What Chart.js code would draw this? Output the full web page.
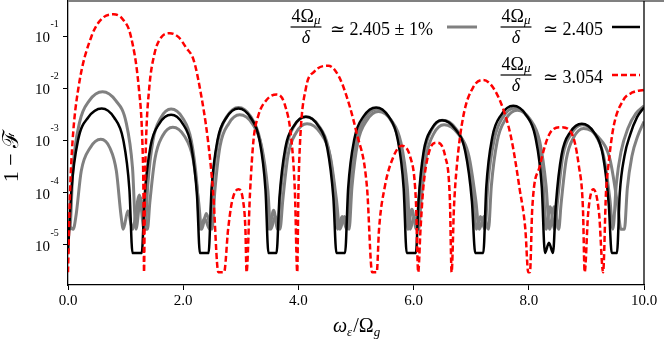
<!DOCTYPE html>
<html>
<head>
<meta charset="utf-8">
<script src="https://cdn.jsdelivr.net/npm/chart.js@4.4.1/dist/chart.umd.min.js"></script>
<style>
  body { margin: 0; background: #fff; }
  #wrap { width: 664px; height: 342px; }
</style>
</head>
<body>
<div id="wrap"><canvas id="chartCanvas" width="664" height="342"></canvas></div>
<script>
// points: [omega_eps / Omega_g, 1 - F]
let redCurve = [
  [0, 3e-6], [0.035, 1e-4], [0.08, 1e-3], [0.18, 1e-2], [0.41, 0.1], [0.6, 0.22], [0.79, 0.26], [0.95, 0.21], [1.09, 0.1], [1.23, 1e-2], [1.29, 1e-3], [1.31, 1e-4], [1.32, 3e-6],
  [1.335, 1e-4], [1.355, 1e-3], [1.41, 1e-2], [1.5, 0.045], [1.62, 0.095], [1.77, 0.113], [1.92, 0.095], [2.05, 0.06], [2.18, 0.035], [2.29, 1e-2], [2.43, 1e-3], [2.52, 1e-4], [2.61, 3e-6], [2.71, 3e-6],
  [2.78, 2e-5], [2.85, 7e-5], [2.96, 1.17e-4], [3.04, 7e-5], [3.08, 2e-5], [3.1, 3e-6],
  [3.16, 1e-4], [3.22, 1e-3], [3.3, 2.9e-3], [3.45, 6.0e-3], [3.62, 7.6e-3], [3.76, 5.0e-3], [3.88, 1e-3], [3.94, 1e-4], [3.98, 3e-6],
  [4.0, 1e-4], [4.03, 1e-3], [4.13, 1e-2], [4.28, 0.021], [4.52, 0.027], [4.65, 0.021], [4.78, 1.07e-2], [5.01, 1.4e-3], [5.19, 1.3e-4], [5.28, 3e-6], [5.36, 3e-6],
  [5.4, 2e-5], [5.5, 1.3e-4], [5.65, 4.9e-4], [5.79, 7.9e-4], [5.94, 4.9e-4], [6.04, 7e-5], [6.08, 3e-6],
  [6.12, 2e-5], [6.17, 1.3e-4], [6.28, 6.6e-4], [6.4, 9.1e-4], [6.55, 4.9e-4], [6.63, 7.2e-5], [6.66, 3e-6],
  [6.7, 5e-5], [6.75, 3.2e-4], [6.86, 2.8e-3], [7.04, 1.07e-2], [7.21, 0.0144], [7.44, 8e-3], [7.64, 2e-3], [7.72, 8e-4], [7.84, 1.2e-4], [7.94, 2e-5], [7.99, 3e-6], [8.02, 3e-6],
  [8.06, 5e-5], [8.19, 3.2e-4], [8.37, 1.4e-3], [8.56, 1.8e-3], [8.74, 1.4e-3], [8.87, 3.2e-4], [8.94, 5e-5], [8.97, 3e-6],
  [9.03, 4e-5], [9.12, 1.17e-4], [9.22, 4e-5], [9.29, 3e-6],
  [9.34, 1e-4], [9.38, 3.2e-4], [9.47, 1.8e-3], [9.64, 5.9e-3], [9.8, 8.3e-3], [10, 9.3e-3]
];

let blackCurve = [
  [0, 7e-6], [0.06, 1.15e-4], [0.175, 1.02e-3], [0.35, 2.75e-3], [0.585, 4.1e-3], [0.8, 2.75e-3], [0.96, 1.02e-3], [1.066, 1.15e-4], [1.12, 7e-6], [1.28, 7e-6],
  [1.331, 8.7e-5], [1.433, 7.8e-4], [1.586, 2.1e-3], [1.79, 3.1e-3], [1.99, 2.1e-3], [2.14, 7.8e-4], [2.24, 8.7e-5], [2.29, 7e-6], [2.44, 7e-6],
  [2.492, 1.15e-4], [2.596, 1.02e-3], [2.752, 2.75e-3], [2.96, 4.1e-3], [3.168, 2.75e-3], [3.324, 1.02e-3], [3.428, 1.15e-4], [3.48, 7e-6], [3.62, 7e-6],
  [3.671, 8.0e-5], [3.773, 7.2e-4], [3.926, 1.93e-3], [4.13, 2.85e-3], [4.342, 1.93e-3], [4.501, 7.2e-4], [4.607, 8.0e-5], [4.66, 7e-6], [4.81, 7e-6],
  [4.864, 1.22e-4], [4.972, 1.08e-3], [5.134, 2.92e-3], [5.35, 4.3e-3], [5.562, 2.92e-3], [5.721, 1.08e-3], [5.827, 1.22e-4], [5.88, 7e-6], [6.04, 7e-6],
  [6.085, 6.9e-5], [6.175, 6.2e-4], [6.31, 1.66e-3], [6.49, 2.45e-3], [6.722, 1.66e-3], [6.896, 6.2e-4], [7.012, 6.9e-5], [7.07, 7e-6], [7.21, 7e-6],
  [7.262, 1.29e-4], [7.366, 1.15e-3], [7.522, 3.1e-3], [7.73, 4.6e-3], [7.95, 3.1e-3], [8.115, 1.15e-3], [8.225, 1.29e-4], [8.28, 7e-6], [8.35, 1.1e-5], [8.42, 7e-6],
  [8.47, 6.0e-5], [8.57, 5.4e-4], [8.72, 1.45e-3], [8.92, 2.1e-3], [9.128, 1.45e-3], [9.284, 5.4e-4], [9.388, 6.0e-5], [9.44, 7e-6], [9.53, 7e-6],
  [9.58, 1.0e-4], [9.66, 5e-4], [9.76, 1.3e-3], [9.88, 2.8e-3], [10, 4.3e-3]
];

// the +1% / -1% pair, both drawn grey
let grayHigh = [
  [0, 2.5e-5], [0.03, 2e-5], [0.087, 3.0e-4], [0.2, 2.2e-3], [0.37, 5.8e-3], [0.6, 8.6e-3], [0.83, 5.8e-3], [1.01, 2.2e-3], [1.12, 3.0e-4], [1.18, 2e-5], [1.26, 8e-5], [1.34, 2e-5],
  [1.385, 1.4e-4], [1.475, 1.0e-3], [1.61, 2.7e-3], [1.79, 4.0e-3], [1.99, 2.7e-3], [2.14, 1.0e-3], [2.24, 1.4e-4], [2.29, 2e-5], [2.37, 3.2e-5], [2.46, 2e-5],
  [2.51, 1.5e-4], [2.61, 1.07e-3], [2.76, 2.9e-3], [2.96, 4.3e-3], [3.17, 2.9e-3], [3.33, 1.07e-3], [3.44, 1.5e-4], [3.49, 2e-5], [3.57, 4.6e-5], [3.64, 2e-5],
  [3.69, 1.0e-4], [3.79, 7.2e-4], [3.93, 1.93e-3], [4.13, 2.85e-3], [4.35, 1.93e-3], [4.52, 7.2e-4], [4.63, 1.0e-4], [4.68, 2e-5], [4.76, 3.5e-5], [4.84, 2e-5],
  [4.89, 1.4e-4], [5.0, 1.0e-3], [5.16, 2.7e-3], [5.37, 4.0e-3], [5.58, 2.7e-3], [5.74, 1.0e-3], [5.85, 1.4e-4], [5.9, 2e-5], [5.97, 4.8e-5], [6.05, 2e-5],
  [6.1, 8.7e-5], [6.19, 6.2e-4], [6.32, 1.66e-3], [6.5, 2.45e-3], [6.74, 1.66e-3], [6.91, 6.2e-4], [7.03, 8.7e-5], [7.09, 2e-5], [7.16, 3.5e-5], [7.24, 2e-5],
  [7.29, 1.5e-4], [7.4, 1.05e-3], [7.55, 2.8e-3], [7.76, 4.2e-3], [7.98, 2.8e-3], [8.14, 1.05e-3], [8.25, 1.5e-4], [8.3, 2e-5], [8.37, 5.4e-5], [8.45, 2e-5],
  [8.5, 7.1e-5], [8.59, 5.0e-4], [8.74, 1.35e-3], [8.93, 2.0e-3], [9.14, 1.35e-3], [9.3, 5.0e-4], [9.41, 7.1e-5], [9.46, 2e-5],
  [9.52, 1.5e-4], [9.6, 6e-4], [9.72, 1.7e-3], [9.86, 3.3e-3], [10, 4.6e-3]
];

let grayLow = [
  [0, 2.5e-5], [0.09, 2e-5], [0.14, 3.7e-5], [0.23, 2.6e-4], [0.38, 7.1e-4], [0.57, 1.05e-3], [0.73, 7.1e-4], [0.84, 2.6e-4], [0.92, 3.7e-5], [0.96, 2e-5], [1.04, 4.5e-5], [1.12, 2e-5], [1.24, 9e-5], [1.32, 2e-5], [1.38, 2e-5],
  [1.42, 6.4e-5], [1.51, 4.5e-4], [1.64, 1.22e-3], [1.82, 1.8e-3], [2.02, 1.22e-3], [2.17, 4.5e-4], [2.27, 6.4e-5], [2.32, 2e-5], [2.4, 4e-5], [2.5, 2e-5],
  [2.55, 1.1e-4], [2.64, 7.8e-4], [2.79, 2.1e-3], [2.98, 3.1e-3], [3.2, 2.1e-3], [3.36, 7.8e-4], [3.47, 1.1e-4], [3.52, 2e-5], [3.6, 3.5e-5], [3.68, 2e-5],
  [3.73, 7.4e-5], [3.82, 5.2e-4], [3.96, 1.41e-3], [4.15, 2.1e-3], [4.38, 1.41e-3], [4.55, 5.2e-4], [4.66, 7.4e-5], [4.72, 2e-5], [4.8, 3.5e-5], [4.88, 2e-5],
  [4.93, 1.3e-4], [5.03, 9.1e-4], [5.19, 2.45e-3], [5.39, 3.6e-3], [5.61, 2.45e-3], [5.78, 9.1e-4], [5.89, 1.3e-4], [5.94, 2e-5], [6.01, 3.5e-5], [6.09, 2e-5],
  [6.13, 7.1e-5], [6.22, 5.0e-4], [6.35, 1.35e-3], [6.53, 2.0e-3], [6.77, 1.35e-3], [6.96, 5.0e-4], [7.08, 7.1e-5], [7.14, 2e-5], [7.22, 3.5e-5], [7.3, 2e-5],
  [7.35, 1.35e-4], [7.45, 9.5e-4], [7.6, 2.57e-3], [7.8, 3.8e-3], [8.02, 2.57e-3], [8.19, 9.5e-4], [8.3, 1.35e-4], [8.36, 2e-5], [8.44, 5.4e-5], [8.52, 2e-5],
  [8.56, 6.0e-5], [8.65, 4.3e-4], [8.78, 1.15e-3], [8.95, 1.7e-3], [9.21, 1.15e-3], [9.41, 4.3e-4], [9.54, 6.0e-5], [9.6, 2e-5], [9.66, 2e-5],
  [9.71, 1.2e-4], [9.79, 5e-4], [9.89, 1.2e-3], [10, 2.3e-3]
];

let xTicks = [0, 2, 4, 6, 8, 10];
let yTicks = [1e-5, 1e-4, 1e-3, 1e-2, 1e-1];
let legendValues = ['\u2243 2.405 \u00b1 1%', '\u2243 2.405', '\u2243 3.054'];

const serif = '"Liberation Serif", "DejaVu Serif", serif';

function toPoints(arr) {
  return arr.map(p => ({ x: p[0], y: p[1] }));
}

// fraction 4Ω_μ / δ centred on cx, bar at y
function drawFraction(ctx, cx, y) {
  ctx.font = '18px ' + serif;
  let w1 = ctx.measureText('4\u03a9').width;
  ctx.font = 'italic 13px ' + serif;
  let w2 = ctx.measureText('\u03bc').width;
  let w = w1 + w2;
  let x0 = cx - w / 2;
  ctx.textAlign = 'left';
  ctx.font = '18px ' + serif;
  ctx.fillText('4\u03a9', x0, y - 5);
  ctx.font = 'italic 13px ' + serif;
  ctx.fillText('\u03bc', x0 + w1, y - 3);
  ctx.fillRect(x0 - 1, y - 0.6, w + 2, 1.2);
  ctx.textAlign = 'center';
  ctx.font = 'italic 18px ' + serif;
  ctx.fillText('\u03b4', cx, y + 16);
  ctx.textAlign = 'left';
}

function sampleLine(ctx, x1, x2, y, color, width, dash) {
  ctx.save();
  ctx.strokeStyle = color;
  ctx.lineWidth = width;
  ctx.setLineDash(dash);
  ctx.beginPath();
  ctx.moveTo(x1, y);
  ctx.lineTo(x2, y);
  ctx.stroke();
  ctx.restore();
}

const extras = {
  id: 'extras',
  afterDraw(chart) {
    let ctx = chart.ctx;
    let area = chart.chartArea;
    let yScale = chart.scales.y;
    ctx.save();

    // frame: grey top edge, black right edge
    ctx.strokeStyle = '#808080';
    ctx.lineWidth = 2;
    ctx.beginPath();
    ctx.moveTo(area.left, area.top);
    ctx.lineTo(664, area.top);
    ctx.stroke();
    ctx.strokeStyle = '#000';
    ctx.lineWidth = 1.3;
    ctx.beginPath();
    ctx.moveTo(area.right, area.top);
    ctx.lineTo(area.right, area.bottom);
    ctx.stroke();

    // y tick labels 10^n
    ctx.fillStyle = '#000';
    yTicks.forEach(v => {
      let py = yScale.getPixelForValue(v);
      let exp = Math.round(Math.log10(v));
      ctx.font = '15px ' + serif;
      ctx.textAlign = 'right';
      ctx.fillText('10', 50, py + 6);
      ctx.font = '10px ' + serif;
      ctx.textAlign = 'left';
      ctx.fillText(String(exp), 50.5, py - 9);
    });

    // legend
    ctx.fillStyle = '#000';
    drawFraction(ctx, 306, 27);
    ctx.font = '18px ' + serif;
    ctx.fillText(legendValues[0], 330, 35);
    sampleLine(ctx, 447, 477, 27, '#808080', 3, []);

    drawFraction(ctx, 516, 27);
    ctx.font = '18px ' + serif;
    ctx.fillText(legendValues[1], 543, 35);
    sampleLine(ctx, 612, 640, 27, '#000', 2.5, []);

    drawFraction(ctx, 516, 75);
    ctx.font = '18px ' + serif;
    ctx.fillText(legendValues[2], 543, 83);
    sampleLine(ctx, 612, 640, 75, '#ff0000', 2.5, [6, 3]);

    // x axis title  ω_ε / Ω_g
    let x = 333, base = 332;
    ctx.textAlign = 'left';
    ctx.font = 'italic 20px ' + serif;
    ctx.fillText('\u03c9', x, base);
    x += ctx.measureText('\u03c9').width;
    ctx.font = 'italic 13px ' + serif;
    ctx.fillText('\u03b5', x, base + 4);
    x += ctx.measureText('\u03b5').width + 1;
    ctx.font = '20px ' + serif;
    ctx.fillText('/\u03a9', x, base);
    x += ctx.measureText('/\u03a9').width;
    ctx.font = 'italic 13px ' + serif;
    ctx.fillText('g', x, base + 4);

    // y axis title
    ctx.translate(18, 156);
    ctx.rotate(-Math.PI / 2);
    ctx.textAlign = 'center';
    ctx.font = '22px ' + serif;
    ctx.fillText('1 \u2212 \u2131', 0, 0);

    ctx.restore();
  }
};

let ctx = document.getElementById('chartCanvas').getContext('2d');
let chartInstance = new Chart(ctx, {
  type: 'line',
  data: {
    datasets: [
      {
        label: '3.054',
        data: toPoints(redCurve),
        borderColor: '#ff0000',
        borderWidth: 2.5,
        borderDash: [6, 3],
        fill: false
      },
      {
        label: '2.405',
        data: toPoints(blackCurve),
        borderColor: '#000000',
        borderWidth: 2.5,
        fill: false
      },
      {
        label: '2.405 + 1%',
        data: toPoints(grayHigh),
        borderColor: '#808080',
        borderWidth: 3,
        fill: false
      },
      {
        label: '2.405 - 1%',
        data: toPoints(grayLow),
        borderColor: '#808080',
        borderWidth: 3,
        fill: false
      }
    ]
  },
  options: {
    responsive: false,
    animation: false,
    layout: { padding: { top: 1, right: 20, left: 0, bottom: 0 } },
    elements: {
      point: { radius: 0 },
      line: { cubicInterpolationMode: 'monotone' }
    },
    plugins: {
      legend: { display: false },
      tooltip: { enabled: false }
    },
    scales: {
      x: {
        type: 'linear',
        min: 0,
        max: 10,
        afterBuildTicks: s => { s.ticks = xTicks.map(v => ({ value: v })); },
        afterFit: s => { s.height = 57; },
        ticks: {
          callback: v => v.toFixed(1),
          font: { family: serif, size: 15 },
          color: '#000',
          padding: 2,
          maxRotation: 0
        },
        grid: { drawOnChartArea: false, tickLength: 5, color: '#000' },
        border: { color: '#000', width: 1.3 }
      },
      y: {
        type: 'logarithmic',
        min: 1.71e-6,
        max: 0.468,
        afterBuildTicks: s => { s.ticks = yTicks.map(v => ({ value: v })); },
        afterFit: s => { s.width = 68; },
        ticks: { display: false },
        grid: { drawOnChartArea: false, tickLength: 5, color: '#000' },
        border: { color: '#000', width: 1.3 }
      }
    }
  },
  plugins: [extras]
});
</script>
</body>
</html>
